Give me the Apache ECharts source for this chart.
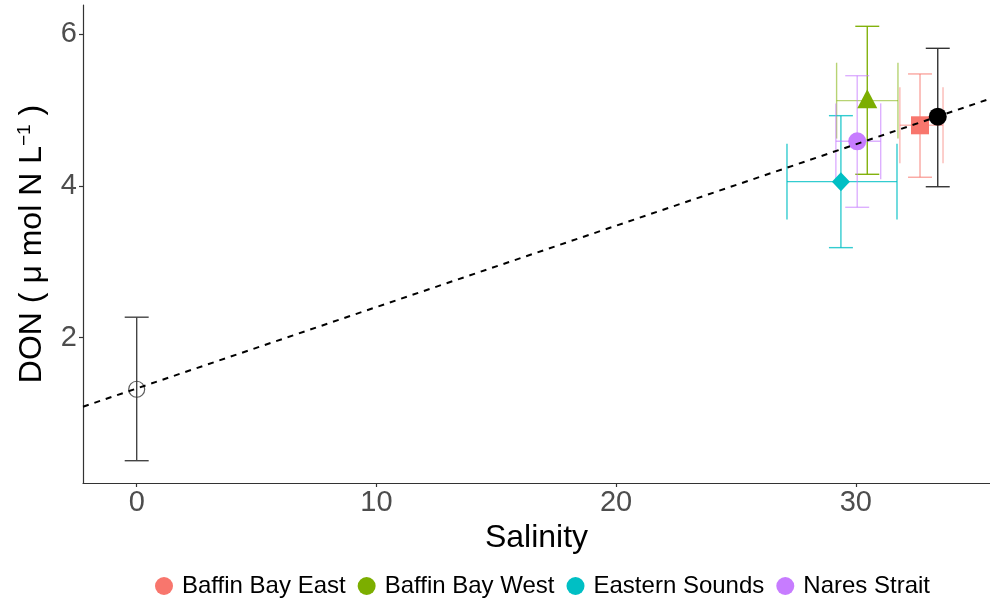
<!DOCTYPE html>
<html>
<head>
<meta charset="utf-8">
<title>DON vs Salinity</title>
<script src="https://cdn.jsdelivr.net/npm/echarts@6/dist/echarts.min.js"></script>
<style>
  html, body { margin: 0; padding: 0; background: #fff; }
  #chart { width: 990px; height: 602px; }
</style>
</head>
<body>
<div id="chart"></div>
<script>
// Axis tick values
const xTicks = [0, 10, 20, 30];
const yTicks = [2, 4, 6];

// Regional means (salinity, DON) with their error ranges
const regions = ['Baffin Bay East', 'Baffin Bay West', 'Eastern Sounds', 'Nares Strait'];
const salinity = [32.68, 30.48, 29.38, 30.06];
const salinityLow = [31.84, 29.20, 27.13, 29.17];
const salinityHigh = [33.64, 31.76, 31.72, 31.04];
const don = [4.80, 5.125, 4.057, 4.589];
const donLow = [4.115, 4.154, 3.187, 3.719];
const donHigh = [5.477, 6.105, 4.927, 5.454];

// Pooled marine mean and freshwater end-member: [salinity, DON, DON low, DON high]
const marineMean = [33.42, 4.914, 3.99, 5.815];
const freshwater = [0, 1.32, 0.378, 2.27];

// Mixing line end points [salinity, DON]
const mixingLine = [[-2.24, 1.09], [35.6, 5.15]];

const regionColors = ['#F8766D', '#7CAE00', '#00BFC4', '#C77CFF'];
const regionSymbols = ['rect', 'triangle', 'diamond', 'circle'];
const regionSymbolSizes = [18, [20, 19], [18, 19], 18];
const regionSymbolOffsets = [[0, 0], [0, -2], [0, 0], [0, 0]];
const vBarColors = ['rgba(248,118,109,0.65)', 'rgba(124,174,0,0.95)', 'rgba(0,191,196,0.8)', 'rgba(199,124,255,0.6)'];
const hBarColors = ['rgba(248,118,109,0.5)', 'rgba(124,174,0,0.55)', 'rgba(0,191,196,0.8)', 'rgba(199,124,255,0.6)'];

const font = "'Liberation Sans', Arial, Helvetica, sans-serif";

// Error bars: vertical bar with caps 1 salinity unit wide,
// horizontal bar with caps 1 DON unit tall.
function errorBarRenderer(vColor, hColor) {
  return function (params, api) {
    const x = api.value(0), y = api.value(1);
    const ylo = api.value(2), yhi = api.value(3);
    const xlo = api.value(4), xhi = api.value(5);
    const seg = (a, b, c) => ({
      type: 'line',
      shape: { x1: a[0], y1: a[1], x2: b[0], y2: b[1] },
      style: { stroke: c, lineWidth: 1.4 }
    });
    const children = [];
    children.push(seg(api.coord([x, ylo]), api.coord([x, yhi]), vColor));
    children.push(seg(api.coord([x - 0.5, ylo]), api.coord([x + 0.5, ylo]), vColor));
    children.push(seg(api.coord([x - 0.5, yhi]), api.coord([x + 0.5, yhi]), vColor));
    if (Number.isFinite(xlo) && Number.isFinite(xhi)) {
      children.push(seg(api.coord([xlo, y]), api.coord([xhi, y]), hColor));
      children.push(seg(api.coord([xlo, y - 0.5]), api.coord([xlo, y + 0.5]), hColor));
      children.push(seg(api.coord([xhi, y - 0.5]), api.coord([xhi, y + 0.5]), hColor));
    }
    return { type: 'group', children: children };
  };
}

const series = [];

// error bars for the end-member and pooled mean
series.push({
  type: 'custom', name: 'freshwater-err', z: 2,
  renderItem: errorBarRenderer('#444', '#444'),
  data: [[freshwater[0], freshwater[1], freshwater[2], freshwater[3], '-', '-']]
});
series.push({
  type: 'custom', name: 'marine-err', z: 2,
  renderItem: errorBarRenderer('#333', '#333'),
  data: [[marineMean[0], marineMean[1], marineMean[2], marineMean[3], '-', '-']]
});

// regional error bars
regions.forEach((r, i) => {
  series.push({
    type: 'custom', name: r + '-err', z: 2,
    renderItem: errorBarRenderer(vBarColors[i], hBarColors[i]),
    data: [[salinity[i], don[i], donLow[i], donHigh[i], salinityLow[i], salinityHigh[i]]]
  });
});

// regional means
regions.forEach((r, i) => {
  series.push({
    type: 'scatter', name: r, z: 3,
    symbol: regionSymbols[i],
    symbolSize: regionSymbolSizes[i],
    symbolOffset: regionSymbolOffsets[i],
    itemStyle: { color: regionColors[i], opacity: 1 },
    data: [[salinity[i], don[i]]]
  });
});

series.push({
  type: 'scatter', name: 'marine', z: 3,
  symbol: 'circle', symbolSize: 18,
  itemStyle: { color: '#000', opacity: 1 },
  data: [[marineMean[0], marineMean[1]]]
});
series.push({
  type: 'scatter', name: 'freshwater', z: 3,
  symbol: 'circle', symbolSize: 16,
  itemStyle: { color: 'rgba(0,0,0,0)', borderColor: '#333', borderWidth: 1.2 },
  data: [[freshwater[0], freshwater[1]]]
});

// mixing line
series.push({
  type: 'line', name: 'mixing', z: 5,
  symbol: 'none',
  lineStyle: { color: '#000', width: 2, type: [6, 6] },
  data: mixingLine
});

const option = {
  animation: false,
  backgroundColor: '#fff',
  grid: { left: 83, top: 5, width: 907, height: 478, containLabel: false },
  xAxis: {
    type: 'value', min: -2.24, max: 35.6,
    name: 'Salinity', nameLocation: 'middle', nameGap: 37,
    nameTextStyle: { fontFamily: font, fontSize: 32, color: '#000' },
    axisLine: { show: true, onZero: false, lineStyle: { color: '#333', width: 1.2 } },
    axisTick: { show: true, customValues: xTicks, length: 4, lineStyle: { color: '#333', width: 1.2 } },
    axisLabel: { customValues: xTicks, fontFamily: font, fontSize: 29, color: '#4D4D4D', margin: 5 },
    splitLine: { show: false }
  },
  yAxis: {
    type: 'value', min: 0.084, max: 6.386,
    name: '{a|DON ( μ mol N L}{s|−1}{a| )}',
    nameLocation: 'middle', nameGap: 34, nameRotate: 90,
    nameTextStyle: {
      fontFamily: font, fontSize: 32, color: '#000',
      rich: {
        a: { fontFamily: font, fontSize: 32, color: '#000', lineHeight: 34 },
        s: { fontFamily: font, fontSize: 19, color: '#000', lineHeight: 34, verticalAlign: 'top', padding: [0, 0, 0, 0] }
      }
    },
    axisLine: { show: true, onZero: false, lineStyle: { color: '#333', width: 1.2 } },
    axisTick: { show: true, customValues: yTicks, length: 4, lineStyle: { color: '#333', width: 1.2 } },
    axisLabel: { customValues: yTicks, fontFamily: font, fontSize: 29, color: '#4D4D4D', margin: 6 },
    splitLine: { show: false }
  },
  legend: {
    data: regions,
    icon: 'circle',
    itemWidth: 18, itemHeight: 18, itemGap: 12,
    left: 150, top: 569,
    textStyle: { fontFamily: font, fontSize: 24, color: '#000', padding: [0, 0, 0, 4] }
  },
  series: series
};

const chart = echarts.init(document.getElementById('chart'), null, { renderer: 'canvas' });
chart.setOption(option);
</script>
</body>
</html>
